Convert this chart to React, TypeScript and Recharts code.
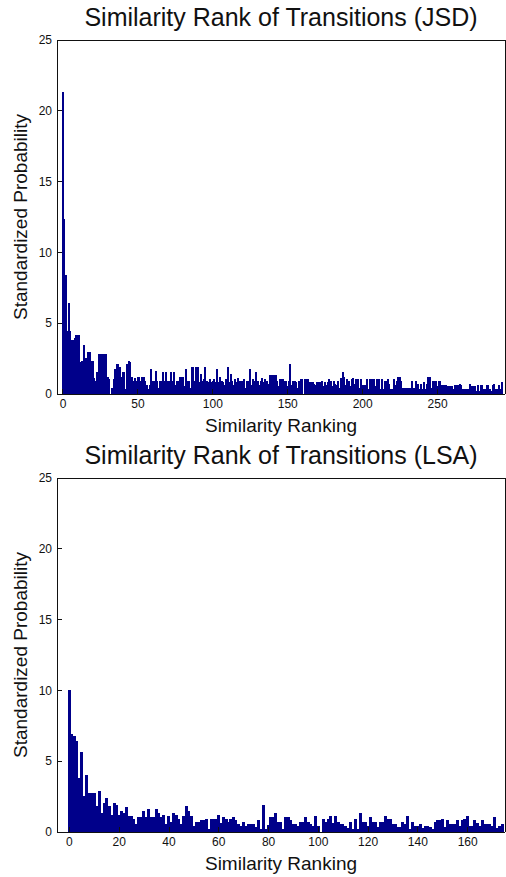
import React from 'react';
import { BarChart, Bar, XAxis, YAxis } from 'recharts';

// standardized probability per similarity rank, JSD measure
const JSD_VALUES = [
  21.3, 12.3, 8.4, 4.4, 6.4, 4.4, 3.8, 3.8, 3.9, 4.1,
  4.1, 4.1, 2.2, 2.3, 3.4, 2.5, 2.5, 2.9, 2.9, 2.3,
  2.3, 1.1, 0.9, 1.5, 2.8, 2.8, 2.8, 2.8, 2.8, 2.8,
  1.2, 1.0, 0.0, 0.4, 1.0, 1.7, 2.1, 2.1, 1.9, 1.2,
  1.5, 1.5, 0.3, 2.1, 2.3, 2.2, 1.2, 0.9, 1.1, 0.9,
  1.2, 1.2, 0.9, 1.2, 1.2, 0.9, 0.6, 0.3, 0.6, 1.7,
  0.9, 0.9, 1.6, 0.9, 0.4, 0.9, 0.9, 1.5, 0.9, 1.5,
  0.9, 0.9, 1.5, 0.9, 1.5, 0.6, 0.9, 0.9, 1.2, 1.2,
  1.2, 0.5, 1.7, 0.9, 0.9, 0.4, 1.9, 1.9, 0.9, 1.9,
  1.9, 0.8, 1.4, 0.9, 1.0, 1.9, 0.9, 0.8, 1.0, 0.8,
  0.9, 1.0, 0.8, 1.7, 0.8, 1.2, 0.9, 0.8, 0.6, 1.0,
  1.9, 0.8, 1.4, 0.9, 0.6, 1.0, 0.8, 1.1, 0.9, 0.9,
  0.9, 1.0, 0.4, 0.9, 0.9, 1.7, 0.6, 1.0, 0.9, 1.5,
  0.9, 0.6, 0.9, 1.1, 0.8, 1.0, 0.9, 0.7, 1.3, 1.3,
  1.3, 1.3, 1.3, 0.9, 0.5, 1.0, 1.0, 1.0, 0.9, 0.9,
  0.5, 0.9, 2.1, 0.6, 0.9, 0.9, 0.8, 0.4, 0.9, 1.0,
  1.0, 0.0, 1.0, 1.0, 1.0, 0.8, 0.8, 0.8, 0.7, 0.6,
  0.8, 0.8, 0.8, 0.9, 0.5, 0.8, 0.6, 0.8, 1.0, 0.9,
  0.5, 0.9, 0.7, 0.6, 0.9, 0.4, 1.1, 1.5, 1.2, 0.6,
  1.0, 0.9, 0.5, 1.0, 1.1, 0.7, 1.0, 1.0, 0.4, 1.0,
  0.6, 0.6, 0.6, 1.0, 0.3, 1.0, 1.0, 1.0, 1.0, 0.5,
  1.0, 1.0, 0.3, 1.0, 0.3, 0.9, 0.9, 1.0, 0.7, 0.3,
  0.3, 1.0, 0.6, 0.9, 1.2, 1.2, 0.9, 0.4, 0.4, 0.4,
  0.4, 0.4, 0.4, 0.9, 0.4, 0.4, 0.9, 0.7, 0.3, 0.7,
  0.3, 0.8, 0.3, 0.7, 1.2, 1.2, 0.4, 0.9, 0.9, 0.9,
  0.5, 0.9, 0.9, 0.6, 0.6, 0.6, 0.6, 0.5, 0.5, 0.5,
  0.5, 0.3, 0.6, 0.6, 0.6, 0.7, 0.6, 0.3, 0.3, 0.3,
  0.3, 0.3, 0.7, 0.5, 0.5, 0.5, 0.2, 0.6, 0.2, 0.6,
  0.6, 0.3, 0.3, 0.6, 0.6, 0.3, 0.2, 0.6, 0.7, 0.3,
  0.3, 0.6, 0.3, 0.8,
];

// same for the LSA measure
const LSA_VALUES = [
  10.0, 6.9, 6.75, 6.4, 3.8, 5.6, 2.5, 4.0, 2.7, 2.7,
  2.7, 1.8, 2.85, 1.3, 2.0, 2.4, 1.8, 1.2, 2.0, 1.9,
  1.2, 1.45, 1.3, 1.75, 1.1, 1.1, 0.9, 0.5, 1.0, 1.0,
  1.45, 1.0, 1.6, 1.0, 1.0, 1.6, 1.3, 1.0, 1.2, 0.5,
  1.1, 0.65, 1.3, 1.2, 0.85, 0.55, 1.1, 1.8, 1.45, 1.1,
  0.4, 0.65, 0.65, 0.8, 0.8, 0.85, 0.2, 0.85, 0.85, 0.85,
  1.2, 0.6, 1.0, 0.85, 0.7, 0.9, 1.0, 0.8, 0.5, 0.4,
  0.65, 0.4, 0.5, 0.5, 0.5, 0.35, 0.8, 0.2, 1.9, 0.2,
  0.45, 1.0, 1.0, 1.3, 0.65, 0.65, 0.2, 1.0, 1.0, 0.8,
  0.5, 0.5, 0.4, 0.7, 0.7, 1.0, 0.7, 0.55, 0.4, 1.1,
  0.4, 0.0, 0.85, 0.7, 0.9, 1.1, 0.6, 1.1, 0.7, 0.5,
  0.5, 0.4, 0.25, 0.65, 0.15, 0.85, 0.2, 1.3, 0.7, 0.65,
  0.4, 1.0, 0.7, 0.65, 0.35, 0.65, 0.65, 1.1, 0.85, 0.85,
  0.55, 0.5, 0.35, 0.35, 0.65, 0.5, 1.1, 0.2, 0.65, 0.4,
  0.4, 0.5, 0.25, 0.4, 0.4, 0.35, 0.2, 0.65, 0.8, 0.8,
  0.85, 0.35, 0.8, 0.5, 0.5, 0.5, 0.8, 0.4, 0.8, 0.9,
  1.1, 0.4, 0.4, 0.8, 0.6, 0.4, 0.8, 0.55, 0.55, 0.5,
  0.4, 1.0, 0.25, 0.4, 0.5,
];

const JSD_X_TICKS = [0, 50, 100, 150, 200, 250];
const LSA_X_TICKS = [0, 20, 40, 60, 80, 100, 120, 140, 160];
const Y_TICKS = [0, 5, 10, 15, 20, 25];

const FONT = '"Liberation Sans", Arial, Helvetica, sans-serif';
const BAR_COLOR = '#00008a';
const INK = '#111';

const toRows = (values: number[]) => values.map((value, rank) => ({ rank, value }));

interface RankPanelProps {
  title: string;
  values: number[];
  xTicks: number[];
  xDomain: [number, number];
}

const RankPanel: React.FC<RankPanelProps> = ({ title, values, xTicks, xDomain }) => {
  const data = toRows(values);
  return (
    <BarChart
      width={506}
      height={438}
      data={data}
      margin={{ top: 0, right: 0, bottom: 0, left: 7 }}
      barCategoryGap={0}
      barGap={0}
      // crisp edges so neighbouring bars merge into one solid block
      style={{ fontFamily: FONT, shapeRendering: 'crispEdges' }}
    >
      {/* negative tickSize puts the tick marks inside the box */}
      <XAxis
        dataKey="rank"
        type="number"
        domain={xDomain}
        ticks={xTicks}
        allowDataOverflow
        height={44}
        tickSize={-5}
        tickMargin={10}
        stroke={INK}
        tick={{ fill: INK, fontSize: 12 }}
        label={{ value: 'Similarity Ranking', position: 'insideBottom', offset: 6, fill: INK, fontSize: 19 }}
      />
      <XAxis
        xAxisId="top"
        orientation="top"
        type="number"
        domain={xDomain}
        ticks={xTicks}
        allowDataOverflow
        height={40}
        tickSize={-5}
        tick={false}
        stroke={INK}
        label={{ value: title, position: 'insideTop', offset: 8, fill: INK, fontSize: 25 }}
      />
      <YAxis
        type="number"
        domain={[0, 25]}
        ticks={Y_TICKS}
        allowDataOverflow
        width={50}
        tickSize={-5}
        tickMargin={10}
        stroke={INK}
        tick={{ fill: INK, fontSize: 12 }}
        label={{
          value: 'Standardized Probability',
          angle: -90,
          position: 'insideLeft',
          offset: 13,
          fill: INK,
          fontSize: 19,
          style: { textAnchor: 'middle' },
        }}
      />
      <YAxis
        yAxisId="right"
        orientation="right"
        type="number"
        domain={[0, 25]}
        ticks={Y_TICKS}
        allowDataOverflow
        width={1}
        tickSize={-5}
        tick={false}
        stroke={INK}
      />
      {/* the stroke closes the sub-pixel gaps between neighbouring bars */}
      <Bar dataKey="value" fill={BAR_COLOR} stroke={BAR_COLOR} strokeWidth={1} isAnimationActive={false} />
    </BarChart>
  );
};

export default function App() {
  return (
    <div style={{ position: 'absolute', left: 0, top: 0, width: 506, height: 877, background: '#fff' }}>
      <RankPanel
        title="Similarity Rank of Transitions (JSD)"
        values={JSD_VALUES}
        xTicks={JSD_X_TICKS}
        xDomain={[-4, 295]}
      />
      <RankPanel
        title="Similarity Rank of Transitions (LSA)"
        values={LSA_VALUES}
        xTicks={LSA_X_TICKS}
        xDomain={[-5, 175]}
      />
    </div>
  );
}
